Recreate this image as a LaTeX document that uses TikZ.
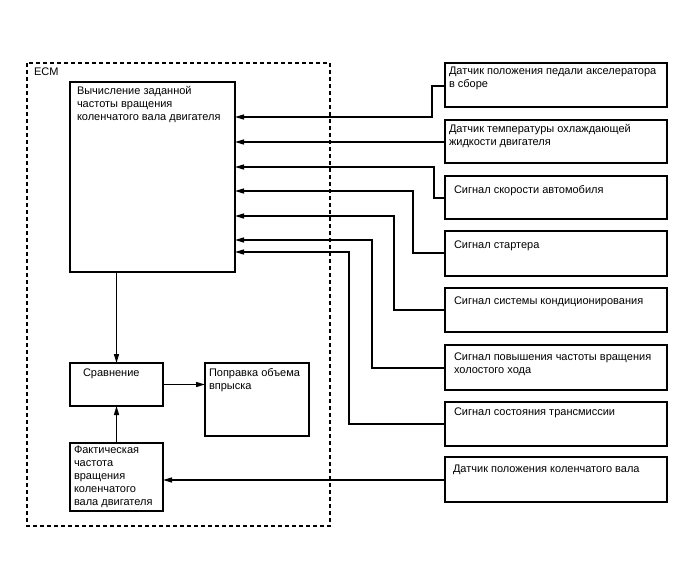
\documentclass[tikz,border=0pt]{standalone}
\usepackage{fontspec}
\setmainfont{Liberation Sans}
\usetikzlibrary{arrows.meta,calc}
\newcommand{\tbx}[1]{\parbox[t]{240pt}{\raggedright #1}}
\begin{document}
\begin{tikzpicture}[x=1pt,y=-1pt,
  font=\fontsize{11}{13}\selectfont,
  box/.style={draw, line width=1.4pt, rectangle, anchor=north west, inner sep=0pt, outer sep=0pt},
  lbl/.style={anchor=base west, inner sep=0pt, outer sep=0pt},
  arr/.style={line width=1.4pt, -{Triangle[length=9pt,width=5pt]}},
  ecmbox/.style={draw, line width=1.3pt, dash pattern=on 4pt off 3pt}]
\fill[white] (0,0) rectangle (688,560);
\useasboundingbox (0,0) rectangle (688,560);

% ECM frame
\draw[ecmbox] (27,63) rectangle (330,526);
\node[lbl] (ecm) at (34,75) {ECM};

% boxes inside ECM
\node[box, minimum width=165pt, minimum height=190pt] (main) at (70,82) {};
\node[box, minimum width=93pt, minimum height=43pt] (cmp) at (70,363) {};
\node[box, minimum width=104pt, minimum height=73pt] (corr) at (205,363) {};
\node[box, minimum width=93pt, minimum height=68pt] (act) at (70,443) {};

\node[lbl] (tmain) at (77,94.5) {\tbx{Вычисление заданной\\частоты вращения\\коленчатого вала двигателя}};
\node[lbl] (tcmp) at (83,376) {\tbx{Сравнение}};
\node[lbl] (tcorr) at (209,376) {\tbx{Поправка объема\\впрыска}};
\node[lbl] (tact) at (74,453.5) {\tbx{Фактическая\\частота\\вращения\\коленчатого\\вала двигателя}};

% sensor boxes
\node[box, minimum width=222pt, minimum height=44pt] (s1) at (445,63) {};
\node[box, minimum width=222pt, minimum height=43pt] (s2) at (445,120) {};
\node[box, minimum width=222pt, minimum height=43pt] (s3) at (445,176) {};
\node[box, minimum width=222pt, minimum height=45pt] (s4) at (445,231) {};
\node[box, minimum width=222pt, minimum height=44pt] (s5) at (445,288) {};
\node[box, minimum width=222pt, minimum height=45pt] (s6) at (445,345) {};
\node[box, minimum width=222pt, minimum height=44pt] (s7) at (445,402) {};
\node[box, minimum width=222pt, minimum height=45pt] (s8) at (445,457) {};

\node[lbl] (t1) at (449,74.5) {\tbx{Датчик положения педали акселератора\\в сборе}};
\node[lbl] (t2) at (449,132) {\tbx{Датчик температуры охлаждающей\\жидкости двигателя}};
\node[lbl] (t3) at (454,193) {\tbx{Сигнал скорости автомобиля}};
\node[lbl] (t4) at (454,248.5) {\tbx{Сигнал стартера}};
\node[lbl] (t5) at (454,304) {\tbx{Сигнал системы кондиционирования}};
\node[lbl] (t6) at (454,360) {\tbx{Сигнал повышения частоты вращения\\холостого хода}};
\node[lbl] (t7) at (454,415) {\tbx{Сигнал состояния трансмиссии}};
\node[lbl] (t8) at (453,472) {\tbx{Датчик положения коленчатого вала}};

% input points on main box
\coordinate (m1) at ($(main.north east)+(0,35)$);
\coordinate (m2) at ($(main.north east)+(0,60)$);
\coordinate (m3) at ($(main.north east)+(0,85)$);
\coordinate (m4) at ($(main.north east)+(0,109)$);
\coordinate (m5) at ($(main.north east)+(0,134)$);
\coordinate (m6) at ($(main.north east)+(0,158)$);
\coordinate (m7) at ($(main.north east)+(0,170)$);

% connectors
\draw[arr] ($(s1.north west)+(0,23)$) -- ++(-13,0) |- (m1);
\draw[arr] (s2.west |- m2) -- (m2);
\draw[arr] ($(s3.north west)+(0,22)$) -- ++(-11,0) |- (m3);
\draw[arr] ($(s4.north west)+(0,22)$) -- ++(-32,0) |- (m4);
\draw[arr] ($(s5.north west)+(0,22)$) -- ++(-51,0) |- (m5);
\draw[arr] ($(s6.north west)+(0,23)$) -- ++(-73,0) |- (m6);
\draw[arr] ($(s7.north west)+(0,22)$) -- ++(-96,0) |- (m7);
\coordinate (a8) at ($(s8.north west)+(0,23)$);
\draw[arr] (a8) -- (act.east |- a8);

\draw[arr] (main.south -| cmp.north) -- (cmp.north);
\draw[arr] (act.north) -- (cmp.south);
\draw[arr] (cmp.east) -- (cmp.east -| corr.west);
\end{tikzpicture}
\end{document}
